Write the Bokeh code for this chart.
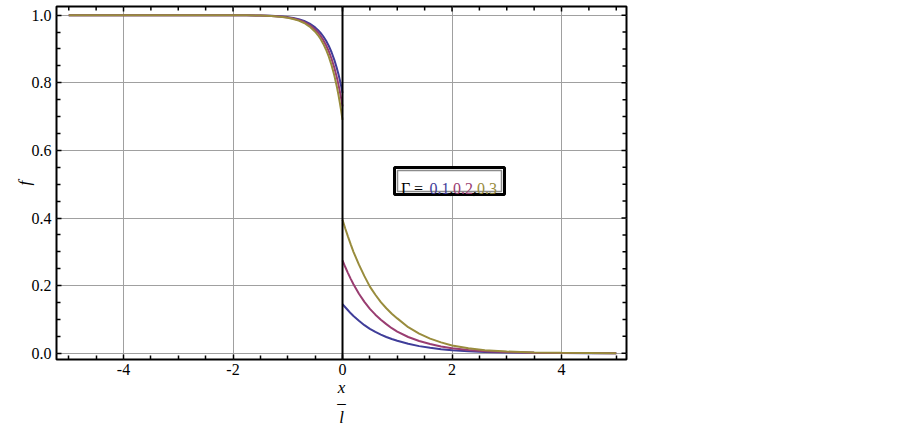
from bokeh.plotting import figure
from bokeh.models import (Range1d, FixedTicker, NumeralTickFormatter,
                          Span, Label, BoxAnnotation)
from bokeh.embed import file_html
from bokeh.resources import INLINE

# ---------------- data ----------------
x_left = [-5.0, -3.0, -2.5, -2.0, -1.75, -1.5, -1.3, -1.1, -1.0, -0.9, -0.8,
          -0.7, -0.6, -0.5, -0.45, -0.4, -0.35, -0.3, -0.25, -0.2, -0.15,
          -0.1, -0.075, -0.05, -0.025, 0.0]
f_left_g01 = [1.0, 1.0, 1.0, 0.9999, 0.9997, 0.9991, 0.9981, 0.9961, 0.9943,
              0.9918, 0.9881, 0.9828, 0.9750, 0.9638, 0.9565, 0.9477, 0.9370,
              0.9242, 0.9088, 0.8903, 0.8680, 0.8411, 0.8257, 0.8089, 0.7903,
              0.7700]
f_left_g02 = [1.0, 1.0, 1.0, 0.9998, 0.9996, 0.9990, 0.9978, 0.9954, 0.9933,
              0.9903, 0.9860, 0.9798, 0.9707, 0.9576, 0.9489, 0.9386, 0.9261,
              0.9110, 0.8929, 0.8712, 0.8450, 0.8135, 0.7954, 0.7756, 0.7538,
              0.7300]
f_left_g03 = [1.0, 1.0, 1.0, 0.9998, 0.9995, 0.9988, 0.9975, 0.9947, 0.9923,
              0.9889, 0.9839, 0.9768, 0.9663, 0.9513, 0.9413, 0.9294, 0.9151,
              0.8978, 0.8771, 0.8521, 0.8220, 0.7859, 0.7651, 0.7424, 0.7174,
              0.6900]

x_right = [0.0, 0.05, 0.1, 0.15, 0.2, 0.3, 0.4, 0.5, 0.6, 0.7, 0.8, 0.9, 1.0,
           1.2, 1.4, 1.6, 1.8, 2.0, 2.3, 2.6, 3.0, 3.5, 4.0, 4.5, 5.0]
f_right_g01 = [0.145, 0.136, 0.127, 0.118, 0.110, 0.096, 0.083, 0.072, 0.063,
               0.055, 0.048, 0.042, 0.037, 0.028, 0.021, 0.016, 0.012, 0.009,
               0.0058, 0.0037, 0.0022, 0.001, 0.0005, 0.0002, 0.0001]
f_right_g02 = [0.275, 0.255, 0.237, 0.220, 0.204, 0.176, 0.152, 0.131, 0.114,
               0.099, 0.086, 0.074, 0.064, 0.048, 0.036, 0.027, 0.020, 0.015,
               0.0095, 0.006, 0.0034, 0.0016, 0.0008, 0.0004, 0.0002]
f_right_g03 = [0.395, 0.369, 0.345, 0.322, 0.300, 0.262, 0.228, 0.197, 0.173,
               0.151, 0.133, 0.117, 0.103, 0.077, 0.058, 0.043, 0.032, 0.023,
               0.015, 0.009, 0.005, 0.0022, 0.001, 0.0005, 0.0002]

gamma_labels = ["0.1", "0.2", "0.3"]
colors = ["#3F3D99", "#993D71", "#998C3D"]

x_ticks = [-4, -2, 0, 2, 4]
x_minor = [-5.0, -4.5, -3.5, -3.0, -2.5, -1.5, -1.0, -0.5,
           0.5, 1.0, 1.5, 2.5, 3.0, 3.5, 4.5, 5.0]
y_ticks = [0.0, 0.2, 0.4, 0.6, 0.8, 1.0]
y_minor = [0.05, 0.1, 0.15, 0.25, 0.3, 0.35, 0.45, 0.5, 0.55,
           0.65, 0.7, 0.75, 0.85, 0.9, 0.95]

# ---------------- layout ----------------
W, H = 640, 429
ML, MR, MT, MB = 56, 14, 6, 70
X0, X1 = -5.224, 5.187
Y0, Y1 = -0.0186, 1.0257
FL, FT = ML, MT
FW, FH = W - ML - MR, H - MT - MB
DX = (X1 - X0) / FW   # data units per pixel
DY = (Y1 - Y0) / FH


def px2x(px):
    return X0 + (px - FL) * DX


def py2y(py):
    return Y1 - (py - FT) * DY


SERIF = "Liberation Serif"

p = figure(width=W, height=H, x_range=Range1d(X0, X1), y_range=Range1d(Y0, Y1),
           output_backend="svg", toolbar_location=None,
           min_border_left=ML, min_border_right=MR,
           min_border_top=MT, min_border_bottom=MB)
p.background_fill_color = "white"
p.border_fill_color = "white"
p.outline_line_color = "black"
p.outline_line_width = 2
p.outline_line_alpha = 1.0

# grid
p.xgrid.ticker = FixedTicker(ticks=x_ticks)
p.ygrid.ticker = FixedTicker(ticks=y_ticks)
for g in (p.xgrid, p.ygrid):
    g.grid_line_color = "#A0A0A0"
    g.grid_line_width = 1

# axes
bottom = p.xaxis[0]
left = p.yaxis[0]
bottom.ticker = FixedTicker(ticks=x_ticks, minor_ticks=x_minor)
bottom.formatter = NumeralTickFormatter(format="0")
left.ticker = FixedTicker(ticks=y_ticks, minor_ticks=y_minor)
left.formatter = NumeralTickFormatter(format="0.0")

for ax in (bottom, left):
    ax.axis_line_color = None
    ax.major_tick_in = 5
    ax.major_tick_out = 0
    ax.minor_tick_in = 4
    ax.minor_tick_out = 0
    ax.major_tick_line_color = "black"
    ax.minor_tick_line_color = "black"
    ax.major_tick_line_width = 1.5
    ax.minor_tick_line_width = 1.5
    ax.major_label_text_font = SERIF
    ax.major_label_text_font_size = "16px"
    ax.major_label_text_color = "black"
    ax.axis_label_text_font = SERIF
    ax.axis_label_text_font_size = "17px"
    ax.axis_label_text_font_style = "italic"
    ax.axis_label_text_color = "black"

bottom.major_label_standoff = 4
left.major_label_standoff = 5

left.axis_label = "f"
left.axis_label_standoff = -5

bottom.axis_label = "x\n–\nl"
bottom.axis_label_standoff = 0
bottom.axis_label_text_line_height = 0.8

# tick marks on top and right edges of the frame (mirror of bottom/left)
for ticks, ln in ((x_ticks, 5), (x_minor, 4)):
    p.segment(x0=ticks, y0=[Y1] * len(ticks), x1=ticks, y1=[Y1 - ln * DY] * len(ticks),
              line_color="black", line_width=1.5)
for ticks, ln in ((y_ticks, 5), (y_minor, 4)):
    p.segment(x0=[X1] * len(ticks), y0=ticks, x1=[X1 - ln * DX] * len(ticks), y1=ticks,
              line_color="black", line_width=1.5)

# curves
lefts = [f_left_g01, f_left_g02, f_left_g03]
rights = [f_right_g01, f_right_g02, f_right_g03]
for fl, fr, c in zip(lefts, rights, colors):
    p.line(x_left, fl, line_color=c, line_width=2)
    p.line(x_right, fr, line_color=c, line_width=2)

# vertical axis at x = 0
p.add_layout(Span(location=0, dimension="height", line_color="black", line_width=2))

# legend box
p.add_layout(BoxAnnotation(left=px2x(394), right=px2x(504), top=py2y(167), bottom=py2y(194),
                           fill_color="white", fill_alpha=1.0,
                           line_color="black", line_width=3, line_alpha=1.0))
p.add_layout(BoxAnnotation(left=px2x(397), right=px2x(501), top=py2y(170), bottom=py2y(191),
                           fill_alpha=0.0, line_color="#8C8C8C", line_width=1.5, line_alpha=1.0))

pieces = [("Γ", "black", 400.5), ("=", "black", 413.5),
          (gamma_labels[0], colors[0], 429.0), (",", "black", 449.0),
          (gamma_labels[1], colors[1], 452.5), (",", "black", 472.5),
          (gamma_labels[2], colors[2], 476.5)]
for txt, col, px in pieces:
    p.add_layout(Label(x=px2x(px), y=py2y(188), text=txt, text_color=col,
                       text_font=SERIF, text_font_size="16px",
                       text_align="left", text_baseline="alphabetic"))

open("out.html", "w").write(file_html(p, INLINE))
